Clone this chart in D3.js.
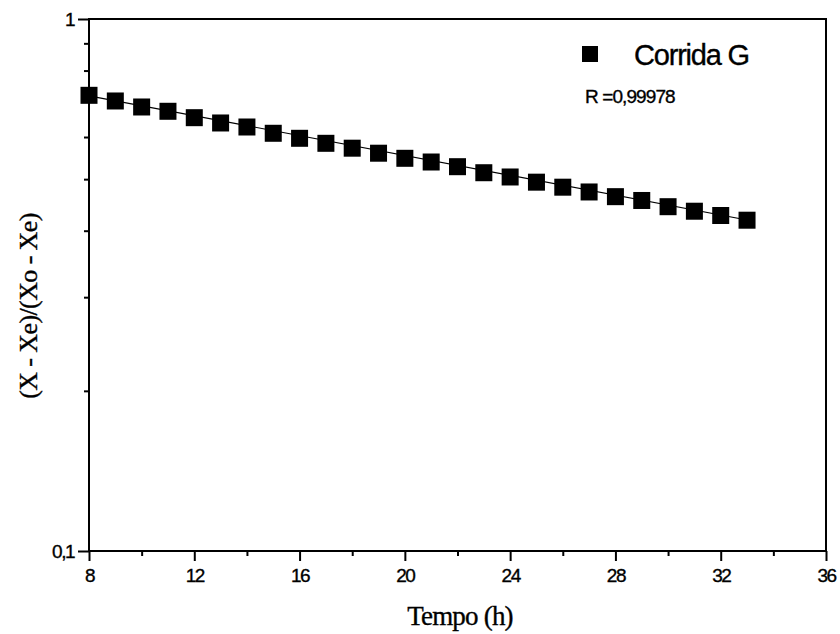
<!DOCTYPE html>
<html>
<head>
<meta charset="utf-8">
<script src="https://cdn.jsdelivr.net/npm/d3@7"></script>
<style>
  html, body { margin: 0; padding: 0; background: #fff; }
  svg { display: block; }
  text { stroke: #000; stroke-width: 0.35px; }
</style>
</head>
<body>
<svg id="chart" width="840" height="634"></svg>
<script>
// Drying run G: normalized moisture ratio vs. time (log scale)
const tempo = [8, 9, 10, 11, 12, 13, 14, 15, 16, 17, 18, 19, 20, 21, 22, 23, 24, 25, 26, 27, 28, 29, 30, 31, 32, 33];
const razao = [0.7187, 0.7013, 0.6833, 0.6707, 0.6524, 0.6376, 0.6266, 0.6098, 0.5967, 0.5839,
               0.5717, 0.5594, 0.5472, 0.5385, 0.5277, 0.5141, 0.5047, 0.4935, 0.4829, 0.4730,
               0.4635, 0.4559, 0.4438, 0.4352, 0.4272, 0.4186];
// Fitted line end points
const ajusteT = [8, 33];
const ajusteV = [0.717, 0.419];

const xTicksMajor = [8, 12, 16, 20, 24, 28, 32, 36];
const xTicksMinor = [10, 14, 18, 22, 26, 30, 34];
const yTicksMajor = [0.1, 1];
const yTickLabels = ["0,1", "1"];
const yTicksMinor = [0.2, 0.3, 0.4, 0.5, 0.6, 0.7, 0.8, 0.9];

const serieNome = "Corrida G";
const rTexto = "R =0,99978";

const svg = d3.select("#chart");
const L = 89, R = 826, T = 19, B = 551;

const x = d3.scaleLinear().domain([8, 36]).range([L, R]);
const y = d3.scaleLog().domain([0.1, 1]).range([B, T]);

const sans = "Liberation Sans, Arial, sans-serif";
const serif = "Liberation Serif, Times New Roman, serif";

// Frame
svg.append("rect")
  .attr("x", L).attr("y", T).attr("width", R - L).attr("height", B - T)
  .attr("fill", "none").attr("stroke", "#000").attr("stroke-width", 2);

// Bottom axis: major ticks with labels
const xAxis = d3.axisBottom(x).tickValues(xTicksMajor).tickSize(10).tickPadding(8)
  .tickFormat(d3.format("d"));
const gx = svg.append("g").attr("transform", `translate(0,${B})`).call(xAxis);
gx.select(".domain").remove();
gx.selectAll(".tick line").attr("stroke-width", 2);
gx.selectAll(".tick text")
  .style("font-family", sans).style("font-size", "19px")
  .attr("letter-spacing", -1.5).attr("fill", "#000");

// Bottom axis: minor ticks
const xMinor = d3.axisBottom(x).tickValues(xTicksMinor).tickSize(5).tickFormat("");
const gxm = svg.append("g").attr("transform", `translate(0,${B})`).call(xMinor);
gxm.select(".domain").remove();
gxm.selectAll(".tick line").attr("stroke-width", 2);

// Left axis: major ticks
const yAxis = d3.axisLeft(y).tickValues(yTicksMajor).tickSize(11).tickPadding(4)
  .tickFormat((d, i) => yTickLabels[i]);
const gy = svg.append("g").attr("transform", `translate(${L},0)`).call(yAxis);
gy.select(".domain").remove();
gy.selectAll(".tick line").attr("stroke-width", 2);
gy.selectAll(".tick text")
  .style("font-family", sans).style("font-size", "19px")
  .attr("letter-spacing", -1.5).attr("fill", "#000");

// Left axis: minor ticks
const yMinor = d3.axisLeft(y).tickValues(yTicksMinor).tickSize(5).tickFormat("");
const gym = svg.append("g").attr("transform", `translate(${L},0)`).call(yMinor);
gym.select(".domain").remove();
gym.selectAll(".tick line").attr("stroke-width", 2);

// Fitted line
const ajuste = ajusteT.map((t, i) => ({ t, v: ajusteV[i] }));
svg.append("path")
  .datum(ajuste)
  .attr("d", d3.line().x(d => x(d.t)).y(d => y(d.v)))
  .attr("fill", "none").attr("stroke", "#000").attr("stroke-width", 1.2);

// Data markers
const pontos = tempo.map((t, i) => ({ t, v: razao[i] }));
const S = 17;
svg.append("g").selectAll("rect")
  .data(pontos)
  .join("rect")
  .attr("x", d => x(d.t) - S / 2)
  .attr("y", d => y(d.v) - S / 2)
  .attr("width", S).attr("height", S)
  .attr("fill", "#000");

// Legend
svg.append("rect").attr("x", 582).attr("y", 46).attr("width", 16).attr("height", 16).attr("fill", "#000");
svg.append("text")
  .attr("x", 634).attr("y", 65)
  .style("font-family", sans).style("font-size", "29px")
  .attr("letter-spacing", -1.2).attr("fill", "#000")
  .text(serieNome);
svg.append("text")
  .attr("x", 585).attr("y", 103)
  .style("font-family", sans).style("font-size", "19px")
  .attr("letter-spacing", -0.9).attr("fill", "#000")
  .text(rTexto);

// Axis titles
svg.append("text")
  .attr("x", 460).attr("y", 625)
  .attr("text-anchor", "middle")
  .style("font-family", serif).style("font-size", "27px")
  .attr("letter-spacing", -0.8).attr("fill", "#000")
  .text("Tempo (h)");
svg.append("text")
  .attr("transform", "translate(37,306) rotate(-90)")
  .attr("text-anchor", "middle")
  .style("font-family", serif).style("font-size", "26px")
  .attr("letter-spacing", -0.6).attr("fill", "#000")
  .text("(X - Xe)/(Xo - Xe)");
</script>
</body>
</html>
